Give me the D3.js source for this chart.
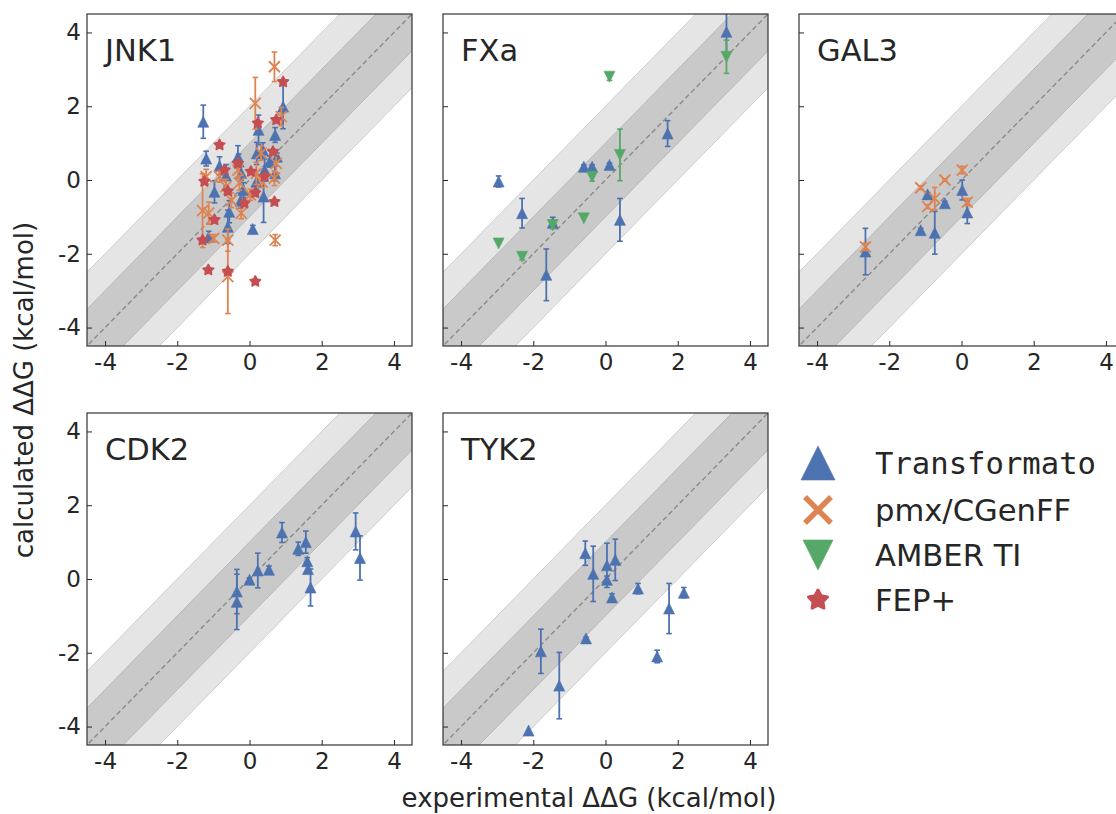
<!DOCTYPE html>
<html>
<head>
<meta charset="utf-8">
<script src="https://cdn.jsdelivr.net/npm/d3@7"></script>
<style>
  body { margin: 0; background: #fff; }
  svg { font-family: "DejaVu Sans", sans-serif; }
</style>
</head>
<body>
<svg id="chart" width="1116" height="814"></svg>
<script>
const methods = ["Transformato", "pmx/CGenFF", "AMBER TI", "FEP+"];
const colors = ["#4c72b0", "#dd8452", "#55a868", "#c44e52"];
const tickValues = [-4, -2, 0, 2, 4];

// each row: [experimental, calculated, error]
const jnk1Transformato = [
  [-1.28, 1.58, 0.45], [-1.2, 0.58, 0.2], [-0.83, 0.38, 0.25], [-0.65, 0.12, 0.3],
  [-0.97, -0.32, 0.3], [-0.32, 0.63, 0.3], [-0.23, 0.19, 0.2], [-0.17, -0.27, 0.2],
  [-0.25, -0.56, 0.2], [-0.56, -0.86, 0.3], [-0.6, -1.27, 0.45], [-1.13, -1.54, 0.15],
  [0.09, -1.33, 0.1], [0.19, -0.05, 0.2], [0.2, 0.72, 0.3], [0.25, 1.36, 0.4],
  [0.37, 0.81, 0.2], [0.39, -0.45, 0.7], [0.42, 0.27, 0.3], [0.56, 0.5, 0.15],
  [0.71, 1.22, 0.2], [0.76, 0.63, 0.1], [0.71, 0.18, 0.2], [0.93, 1.99, 0.6],
  [-0.3, 0.5, 0.2]
];
const jnk1Pmx = [
  [0.69, 3.07, 0.4], [0.16, 2.08, 0.7], [0.88, 1.72, 0.25], [-1.2, 0.09, 0.2],
  [-1.3, -0.83, 1.0], [-1.13, -0.9, 0.3], [-0.83, 0.09, 0.15], [-0.99, -1.58, 0.1],
  [-0.6, -1.63, 0.3], [-0.6, -2.62, 1.0], [-0.65, -0.18, 0.2], [-0.28, -0.08, 0.2],
  [-0.23, -0.9, 0.15], [0.19, 0.18, 0.3], [0.32, 0.73, 0.2], [0.35, -0.06, 0.15],
  [0.69, 0.05, 0.2], [0.74, 0.45, 0.25], [0.71, -1.63, 0.15], [-0.32, 0.27, 0.2],
  [0.02, -0.4, 0.15], [-0.5, -0.55, 0.2]
];
const jnk1Fep = [
  [0.93, 2.66, 0], [0.74, 1.63, 0], [0.23, 1.54, 0], [-0.83, 0.95, 0], [0.65, 0.77, 0],
  [-0.69, 0.27, 0], [-0.32, 0.45, 0], [0.04, 0.23, 0], [-1.25, -0.04, 0], [0.69, -0.59, 0],
  [-0.6, -0.3, 0], [-0.14, -0.63, 0], [-0.97, -1.08, 0], [-1.3, -1.63, 0], [-1.14, -2.44, 0],
  [-0.6, -2.48, 0], [0.16, -2.75, 0], [0.16, -0.35, 0], [0.42, 0.09, 0]
];
const fxaTransformato = [
  [3.35, 4.02, 0.6], [1.72, 1.26, 0.35], [-0.6, 0.36, 0.05], [-0.37, 0.36, 0.05],
  [0.11, 0.41, 0.05], [-2.96, -0.04, 0.15], [-2.31, -0.9, 0.4], [-1.46, -1.16, 0.15],
  [0.4, -1.08, 0.58], [-1.64, -2.57, 0.7]
];
const fxaAmber = [
  [0.11, 2.8, 0.1], [3.35, 3.34, 0.45], [0.4, 0.68, 0.7], [-0.37, 0.09, 0.12],
  [-2.96, -1.72, 0], [-2.31, -2.08, 0.08], [-1.46, -1.22, 0.1], [-0.6, -1.04, 0]
];
const gal3Transformato = [
  [-2.66, -1.94, 0.63], [-1.13, -1.36, 0.05], [-0.94, -0.39, 0.05], [-0.74, -1.43, 0.58],
  [-0.46, -0.63, 0.05], [0.02, -0.27, 0.27], [0.16, -0.88, 0.3]
];
const gal3Pmx = [
  [-2.66, -1.81, 0.1], [-1.13, -0.21, 0.05], [-0.94, -0.72, 0.05], [-0.74, -0.5, 0.3],
  [-0.46, 0.0, 0.03], [0.02, 0.27, 0.1], [0.16, -0.6, 0.1]
];
const cdk2Transformato = [
  [-0.35, -0.34, 0.6], [-0.35, -0.62, 0.75], [0.0, -0.02, 0.05], [0.23, 0.23, 0.47],
  [0.54, 0.25, 0.1], [0.9, 1.26, 0.27], [1.35, 0.82, 0.18], [1.56, 1.0, 0.3],
  [1.6, 0.48, 0.1], [1.62, 0.27, 0.1], [1.69, -0.23, 0.5], [2.94, 1.29, 0.5],
  [3.06, 0.57, 0.6]
];
const tyk2Transformato = [
  [-2.13, -4.11, 0], [-1.79, -1.96, 0.6], [-1.28, -2.89, 0.9], [-0.54, -1.61, 0.03],
  [-0.56, 0.7, 0.33], [-0.34, 0.14, 0.75], [0.04, 0.37, 0.6], [0.04, -0.02, 0.1],
  [0.27, 0.52, 0.56], [0.18, -0.5, 0.1], [0.9, -0.26, 0.14], [1.43, -2.1, 0.17],
  [1.76, -0.8, 0.68], [2.17, -0.37, 0.14]
];

const panels = [
  { name: "JNK1", col: 0, row: 0, series: [[0, jnk1Transformato], [1, jnk1Pmx], [3, jnk1Fep]] },
  { name: "FXa", col: 1, row: 0, series: [[0, fxaTransformato], [2, fxaAmber]] },
  { name: "GAL3", col: 2, row: 0, series: [[0, gal3Transformato], [1, gal3Pmx]] },
  { name: "CDK2", col: 0, row: 1, series: [[0, cdk2Transformato]] },
  { name: "TYK2", col: 1, row: 1, series: [[0, tyk2Transformato]] }
];

const svg = d3.select("#chart");
const pw = 325, ph = 332;
const textColor = "#262626";

// fat five-point star, like matplotlib's '*' with an edge
function starPath(r) {
  const pts = [];
  for (let k = 0; k < 10; k++) {
    const a = -Math.PI / 2 + k * Math.PI / 5;
    const rr = k % 2 === 0 ? r : r * 0.52;
    pts.push([rr * Math.cos(a), rr * Math.sin(a)]);
  }
  return "M" + pts.map(q => q.join(",")).join("L") + "Z";
}

// marker paths
function markerPath(type, s) {
  if (type === 0) return `M0,${-s}L${s},${s}L${-s},${s}Z`;
  if (type === 2) return `M0,${s}L${s},${-s}L${-s},${-s}Z`;
  if (type === 1) return `M${-s},${-s}L${s},${s}M${-s},${s}L${s},${-s}`;
  return starPath(s);
}
function drawMarker(g, type, s, sw) {
  const p = g.append("path").attr("d", markerPath(type, s));
  if (type === 1) {
    p.attr("fill", "none").attr("stroke", colors[1]).attr("stroke-width", sw);
  } else {
    p.attr("fill", colors[type]).attr("stroke", colors[type])
      .attr("stroke-width", type === 3 ? s * 0.3 : 0.6).attr("stroke-linejoin", "round");
  }
  return p;
}

panels.forEach((p, i) => {
  const left = 87 + p.col * 356, top = 14 + p.row * 399;
  const g = svg.append("g").attr("transform", `translate(${left},${top})`);
  const x = d3.scaleLinear().domain([-4.5, 4.5]).range([0, pw]);
  const y = d3.scaleLinear().domain([-4.5, 4.5]).range([ph, 0]);

  const clipId = "clip" + i;
  g.append("clipPath").attr("id", clipId).append("rect").attr("width", pw).attr("height", ph);
  const inner = g.append("g").attr("clip-path", `url(#${clipId})`);

  const xs = [-6, 6];
  const band = (d) => {
    const pts = xs.map(v => [x(v), y(v + d)]).concat(xs.slice().reverse().map(v => [x(v), y(v - d)]));
    return "M" + pts.map(q => q.join(",")).join("L") + "Z";
  };
  inner.append("path").attr("d", band(2)).attr("fill", "#e5e5e5")
    .attr("stroke", "#cdcdcd").attr("stroke-width", 1);
  inner.append("path").attr("d", band(1)).attr("fill", "#c9c9c9")
    .attr("stroke", "#b8b8b8").attr("stroke-width", 1);
  inner.append("line").attr("x1", x(-6)).attr("y1", y(-6)).attr("x2", x(6)).attr("y2", y(6))
    .attr("stroke", "#8a8a8a").attr("stroke-width", 1.4).attr("stroke-dasharray", "5,3");

  // axes
  const xAxis = g.append("g").attr("transform", `translate(0,${ph})`)
    .call(d3.axisBottom(x).tickValues(tickValues).tickFormat(d => String(d))
      .tickSizeInner(-5).tickSizeOuter(0).tickPadding(8));
  const yAxis = g.append("g")
    .call(d3.axisLeft(y).tickValues(tickValues).tickFormat(d => String(d))
      .tickSizeInner(-5).tickSizeOuter(0).tickPadding(6));
  [xAxis, yAxis].forEach(a => {
    a.select(".domain").remove();
    a.selectAll("line").attr("stroke", textColor).attr("stroke-width", 1);
    a.selectAll("text").attr("fill", textColor).style("font-size", "23px")
      .style("font-family", '"DejaVu Sans", sans-serif');
  });
  if (p.col !== 0) yAxis.selectAll("text").remove();

  // data
  p.series.forEach(([m, data]) => {
    const sg = inner.append("g");
    data.forEach(d => {
      if (d[2] > 0) {
        const cx = x(d[0]), y1 = y(d[1] - d[2]), y2 = y(d[1] + d[2]);
        sg.append("line").attr("x1", cx).attr("x2", cx).attr("y1", y1).attr("y2", y2)
          .attr("stroke", colors[m]).attr("stroke-width", 1.8);
        [y1, y2].forEach(yy => sg.append("line").attr("x1", cx - 2.8).attr("x2", cx + 2.8)
          .attr("y1", yy).attr("y2", yy).attr("stroke", colors[m]).attr("stroke-width", 1.6));
      }
    });
    data.forEach(d => {
      const mg = sg.append("g").attr("transform", `translate(${x(d[0])},${y(d[1])})`);
      drawMarker(mg, m, m === 3 ? 5.5 : 5.5, 1.8);
    });
  });

  g.append("rect").attr("width", pw).attr("height", ph).attr("fill", "none")
    .attr("stroke", "#333").attr("stroke-width", 1.2);

  g.append("text").attr("x", 18).attr("y", 47).text(p.name)
    .attr("fill", textColor).style("font-size", "30.5px");
});

// legend
const legendY = [463, 510, 555, 600];
const legend = svg.append("g");
methods.forEach((name, m) => {
  const mg = legend.append("g").attr("transform", `translate(818,${legendY[m]})`);
  const sizes = [17, 13, 15, 10];
  drawMarker(mg, m, sizes[m], 5.5);
  legend.append("text").attr("x", 875).attr("y", legendY[m] + 11).text(name)
    .attr("fill", textColor).style("font-size", "30.6px")
    .style("font-family", m === 0 ? '"DejaVu Sans Mono", monospace' : '"DejaVu Sans", sans-serif');
});

// axis titles
svg.append("text").attr("x", 589).attr("y", 807).attr("text-anchor", "middle")
  .attr("fill", textColor).style("font-size", "26px").text("experimental ΔΔG (kcal/mol)");
svg.append("text").attr("transform", "translate(33,390) rotate(-90)").attr("text-anchor", "middle")
  .attr("fill", textColor).style("font-size", "26px").text("calculated ΔΔG (kcal/mol)");
</script>
</body>
</html>
